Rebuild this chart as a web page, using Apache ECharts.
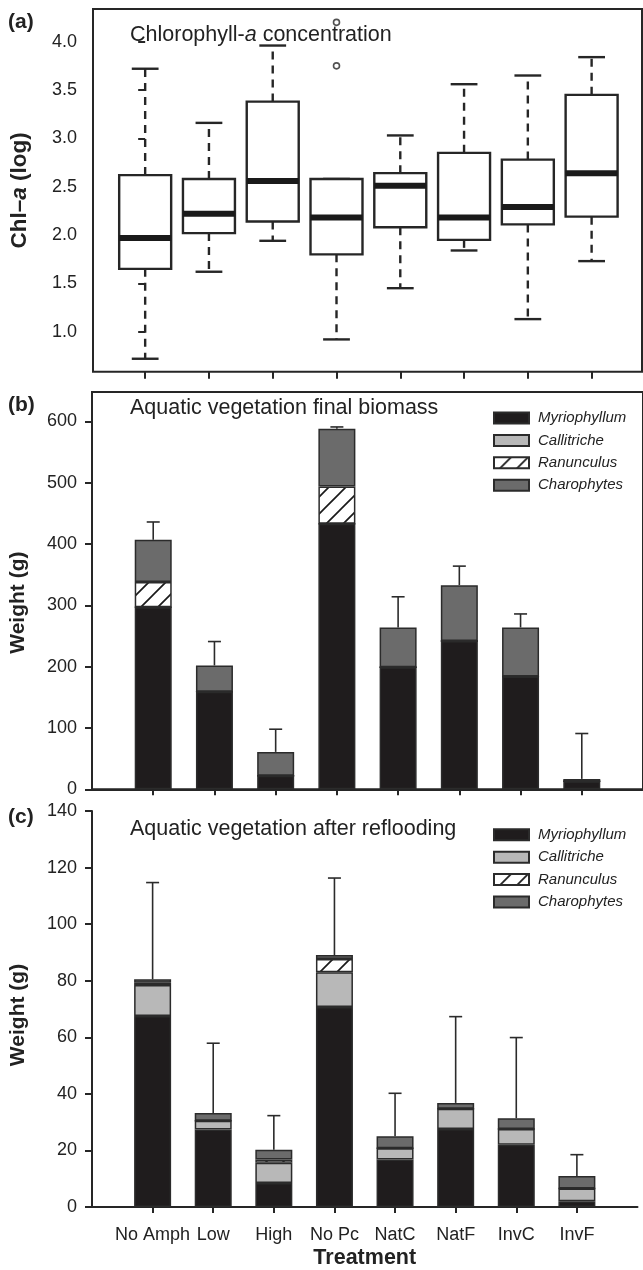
<!DOCTYPE html>
<html>
<head>
<meta charset="utf-8">
<title>Chlorophyll-a and aquatic vegetation</title>
<script src="https://cdn.jsdelivr.net/npm/echarts/dist/echarts.min.js"></script>
<style>
  html, body { margin: 0; padding: 0; background: #fff; }
  #chart { width: 643px; height: 1270px; }
</style>
</head>
<body>
<div id="chart"></div>
<script>
var treatments = ['No Amph', 'Low', 'High', 'No Pc', 'NatC', 'NatF', 'InvC', 'InvF'];
var species = ['Myriophyllum', 'Callitriche', 'Ranunculus', 'Charophytes'];

// (a) chlorophyll-a, log scale
var chlLow  = [0.72, 1.62, 1.94, 0.92, 1.45, 1.84, 1.13, 1.73];
var chlQ1   = [1.65, 2.02, 2.14, 1.80, 2.08, 1.95, 2.11, 2.19];
var chlMed  = [1.97, 2.22, 2.56, 2.18, 2.51, 2.18, 2.29, 2.64];
var chlQ3   = [2.62, 2.58, 3.38, 2.58, 2.64, 2.85, 2.78, 3.45];
var chlHigh = [3.72, 3.16, 3.96, 2.58, 3.03, 3.56, 3.65, 3.84];
var chlOutliers = [[3, 4.20], [3, 3.75]];
var chlTicks = [1.0, 1.5, 2.0, 2.5, 3.0, 3.5, 4.0];

// (b) final biomass (g)
var finMyrio = [297, 159, 22, 433, 199, 242, 184, 13];
var finCalli = [0, 0, 0, 0, 0, 0, 0, 0];
var finRanun = [41, 0, 0, 61, 0, 0, 0, 0];
var finChara = [69, 43, 39, 94, 65, 91, 80, 4];
var finErr   = [436, 241, 98, 591, 314, 364, 286, 91];
var finTicks = [0, 100, 200, 300, 400, 500, 600];

// (c) after reflooding (g)
var refMyrio = [67.5, 27.4, 8.5, 70.7, 16.8, 27.6, 22.0, 2.0];
var refCalli = [11.0, 3.1, 7.1, 12.3, 4.0, 7.1, 5.6, 4.5];
var refRanun = [0.8, 0, 1.2, 4.7, 0, 0, 0, 0];
var refChara = [1.2, 2.7, 3.4, 1.4, 4.2, 2.1, 3.8, 4.5];
var refErr   = [114.7, 57.9, 32.3, 116.3, 40.2, 67.3, 59.9, 18.5];

var FONT = '"Liberation Sans", Arial, sans-serif';
var INK = '#262626';

function hatch() {
    var s = 17;
    var c = document.createElement('canvas');
    c.width = s; c.height = s;
    var g = c.getContext('2d');
    g.fillStyle = '#fff';
    g.fillRect(0, 0, s, s);
    g.strokeStyle = '#1a1a1a';
    g.lineWidth = 1.7;
    g.beginPath();
    g.moveTo(0, s); g.lineTo(s, 0);
    g.moveTo(-4, 4); g.lineTo(4, -4);
    g.moveTo(s - 4, s + 4); g.lineTo(s + 4, s - 4);
    g.stroke();
    return c;
}
var colors = ['#1f1c1d', '#b8b8b8', {image: hatch(), repeat: 'repeat'}, '#6b6b6b'];

// padded categories so the first bar sits one step right of the y axis
var padCats = [''].concat(treatments, [' ']);
function pad(a) { return ['-'].concat(a, ['-']); }
function sum(arrs, i) { var t = 0; arrs.forEach(function (a) { t += a[i]; }); return t; }

function stackSeries(arrs, idx, stack) {
    return arrs.map(function (a, k) {
        return {
            type: 'bar', name: species[k], xAxisIndex: idx, yAxisIndex: idx, stack: stack,
            data: pad(a), barWidth: 37, silent: true,
            itemStyle: {color: colors[k], borderColor: '#2b2b2b', borderWidth: 1.5}
        };
    });
}

function errSeries(arrs, tops, idx) {
    var data = tops.map(function (t, i) { return [i + 1, sum(arrs, i), t]; });
    return {
        type: 'custom', xAxisIndex: idx, yAxisIndex: idx, data: data, z: 3, silent: true,
        renderItem: function (params, api) {
            var b = api.coord([api.value(0), api.value(1)]);
            var t = api.coord([api.value(0), api.value(2)]);
            var w = 6.5;
            var st = {stroke: '#2b2b2b', lineWidth: 1.6};
            return {type: 'group', children: [
                {type: 'line', shape: {x1: b[0], y1: b[1], x2: t[0], y2: t[1]}, style: st},
                {type: 'line', shape: {x1: t[0] - w, y1: t[1], x2: t[0] + w, y2: t[1]}, style: st}
            ]};
        }
    };
}

var boxData = treatments.map(function (n, i) {
    return [i, chlLow[i], chlQ1[i], chlMed[i], chlQ3[i], chlHigh[i]];
});

var fin = [finMyrio, finCalli, finRanun, finChara];
var ref = [refMyrio, refCalli, refRanun, refChara];

function legendAt(top) {
    return {
        data: species, orient: 'vertical', left: 493, top: top, icon: 'rect',
        itemWidth: 35, itemHeight: 11, itemGap: 7.4, selectedMode: false, padding: 0,
        textStyle: {fontFamily: FONT, fontSize: 15, fontStyle: 'italic', color: '#222', lineHeight: 12, padding: [0, 0, 0, 4]}
    };
}

function catAxis(idx, labels) {
    return {
        type: 'category', gridIndex: idx, data: padCats, boundaryGap: false,
        axisLine: {lineStyle: {color: INK, width: 2}},
        axisTick: {length: 6, lineStyle: {color: INK, width: 2},
            interval: function (i) { return i > 0 && i < padCats.length - 1; }},
        axisLabel: {show: labels, interval: 0, margin: 19, fontFamily: FONT, fontSize: 18, color: '#222'},
        splitLine: {show: false}
    };
}

var titleStyle = {fontFamily: FONT, fontSize: 21.5, fontWeight: 'normal', color: '#222'};
var tagStyle = {fontFamily: FONT, fontSize: 21, fontWeight: 'bold', color: '#222'};

var option = {
    animation: false,
    backgroundColor: '#fff',
    title: [
        {text: '(a)', left: 8, top: 12, padding: 0, textStyle: tagStyle},
        {text: '{n|Chlorophyll-}{i|a}{n| concentration}', left: 130, top: 24, padding: 0,
            textStyle: {rich: {n: titleStyle,
                i: {fontFamily: FONT, fontSize: 21.5, fontWeight: 'normal', fontStyle: 'italic', color: '#222'}}}},
        {text: '(b)', left: 8, top: 395, padding: 0, textStyle: tagStyle},
        {text: 'Aquatic vegetation final biomass', left: 130, top: 397.5, padding: 0, textStyle: titleStyle},
        {text: '(c)', left: 8, top: 807, padding: 0, textStyle: tagStyle},
        {text: 'Aquatic vegetation after reflooding', left: 130, top: 818, padding: 0, textStyle: titleStyle}
    ],
    legend: [legendAt(410.5), legendAt(827.3)],
    grid: [
        {left: 92, top: 9, width: 550, height: 362.7, show: true, borderColor: INK, borderWidth: 2},
        {left: 92, top: 392, width: 553.5, height: 397.3, show: true, borderColor: INK, borderWidth: 2},
        {left: 92, top: 811, width: 553.5, height: 397.4}
    ],
    xAxis: [
        {
            type: 'value', gridIndex: 0, min: -0.818, max: 7.79,
            axisLine: {show: false, onZero: false},
            axisTick: {show: true, length: 7, customValues: [0, 1, 2, 3, 4, 5, 6, 7], lineStyle: {color: INK, width: 2}},
            axisLabel: {show: false}, splitLine: {show: false}
        },
        catAxis(1, false),
        Object.assign(catAxis(2, true), {
            name: 'Treatment', nameLocation: 'middle', nameGap: 40,
            nameTextStyle: {fontFamily: FONT, fontSize: 21.5, fontWeight: 'bold', color: '#222'}
        })
    ],
    yAxis: [
        {
            type: 'value', gridIndex: 0, min: 0.586, max: 4.338,
            axisLine: {show: false},
            axisTick: {show: true, length: 7, customValues: chlTicks, lineStyle: {color: INK, width: 2}},
            axisLabel: {customValues: chlTicks, margin: 16, fontFamily: FONT, fontSize: 18, color: '#222',
                formatter: function (v) { return v.toFixed(1); }},
            splitLine: {show: false},
            name: '{b|Chl–}{i|a}{b| (log)}', nameLocation: 'middle', nameGap: 62,
            nameTextStyle: {rich: {
                b: {fontFamily: FONT, fontSize: 22.5, fontWeight: 'bold', color: '#222'},
                i: {fontFamily: FONT, fontSize: 22.5, fontWeight: 'bold', fontStyle: 'italic', color: '#222'}
            }}
        },
        {
            type: 'value', gridIndex: 1, min: 0, max: 648,
            axisLine: {show: true, lineStyle: {color: INK, width: 2}},
            axisTick: {show: true, length: 7, customValues: finTicks, lineStyle: {color: INK, width: 2}},
            axisLabel: {customValues: finTicks, margin: 15, fontFamily: FONT, fontSize: 18, color: '#222'},
            splitLine: {show: false},
            name: 'Weight (g)', nameLocation: 'middle', nameGap: 63,
            nameTextStyle: {fontFamily: FONT, fontSize: 21, fontWeight: 'bold', color: '#222', padding: [0, 24, 0, 0]}
        },
        {
            type: 'value', gridIndex: 2, min: 0, max: 140, interval: 20,
            axisLine: {show: true, lineStyle: {color: INK, width: 2}},
            axisTick: {show: true, length: 7, lineStyle: {color: INK, width: 2}},
            axisLabel: {margin: 15, fontFamily: FONT, fontSize: 18, color: '#222'},
            splitLine: {show: false},
            name: 'Weight (g)', nameLocation: 'middle', nameGap: 63,
            nameTextStyle: {fontFamily: FONT, fontSize: 21, fontWeight: 'bold', color: '#222', padding: [0, 12, 0, 0]}
        }
    ],
    series: [
        {
            type: 'custom', xAxisIndex: 0, yAxisIndex: 0, data: boxData, silent: true,
            renderItem: function (params, api) {
                var x = api.value(0);
                var lo = api.coord([x, api.value(1)]);
                var q1 = api.coord([x, api.value(2)]);
                var md = api.coord([x, api.value(3)]);
                var q3 = api.coord([x, api.value(4)]);
                var hi = api.coord([x, api.value(5)]);
                var bw = api.size([0.815, 0])[0];
                var cw = api.size([0.42, 0])[0];
                var cx = lo[0];
                var dash = {stroke: INK, lineWidth: 2.4, lineDash: [8, 6]};
                var solid = {stroke: INK, lineWidth: 2.4};
                return {type: 'group', children: [
                    {type: 'line', shape: {x1: cx, y1: q3[1], x2: cx, y2: hi[1]}, style: dash},
                    {type: 'line', shape: {x1: cx, y1: q1[1], x2: cx, y2: lo[1]}, style: dash},
                    {type: 'line', shape: {x1: cx - cw / 2, y1: hi[1], x2: cx + cw / 2, y2: hi[1]}, style: solid},
                    {type: 'line', shape: {x1: cx - cw / 2, y1: lo[1], x2: cx + cw / 2, y2: lo[1]}, style: solid},
                    {type: 'rect', shape: {x: cx - bw / 2, y: q3[1], width: bw, height: q1[1] - q3[1]},
                        style: {fill: '#fff', stroke: INK, lineWidth: 2.4}},
                    {type: 'line', shape: {x1: cx - bw / 2, y1: md[1], x2: cx + bw / 2, y2: md[1]},
                        style: {stroke: '#1a1a1a', lineWidth: 6}}
                ]};
            }
        },
        {
            type: 'scatter', xAxisIndex: 0, yAxisIndex: 0, data: chlOutliers, symbol: 'circle', symbolSize: 6,
            silent: true, itemStyle: {color: '#fff', borderColor: INK, borderWidth: 1.6}
        }
    ].concat(
        stackSeries(fin, 1, 'fin'),
        [errSeries(fin, finErr, 1)],
        stackSeries(ref, 2, 'ref'),
        [errSeries(ref, refErr, 2)]
    )
};

var chart = echarts.init(document.getElementById('chart'));
chart.setOption(option);
</script>
</body>
</html>
